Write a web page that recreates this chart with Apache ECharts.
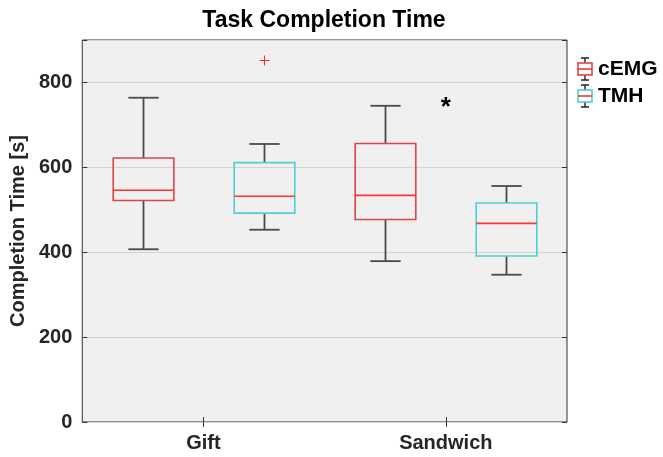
<!DOCTYPE html>
<html>
<head>
<meta charset="utf-8">
<script src="https://cdn.jsdelivr.net/npm/echarts@6/dist/echarts.min.js"></script>
<style>html,body{margin:0;padding:0;background:#fff;}#c{width:663px;height:457px;}</style>
</head>
<body>
<div id="c"></div>
<script>
// ---- data ----
const categories = ['Gift', 'Sandwich'];
const seriesNames = ['cEMG', 'TMH'];
// [lower whisker, Q1, median, Q3, upper whisker]
const cEMG = [[407, 522, 546, 622, 764], [379, 477, 534, 656, 745]];
const TMH = [[453, 492, 532, 611, 655], [347, 391, 468, 516, 556]];
// outliers: [category index, series index, value]
const outliers = [[0, 1, 854]];
// significance marks: [category index, value, text]
const marks = [[1, 751, '*']];
const yTicks = [0, 200, 400, 600, 800];
const yMin = 0, yMax = 900, yStep = 200;

// ---- styles ----
const edgeColors = ['#dc4646', '#4fd0d0'];
const medianColor = '#ff3333';
const whiskerColor = '#4a4a4a';
const font = '"Liberation Sans", Arial, Helvetica, sans-serif';

function iconFor(edge) {
  const svg = "<svg xmlns='http://www.w3.org/2000/svg' width='16' height='24'><g fill='none'>" +
    "<path d='M8 1V6M8 18V23M4 1H12M4 23H12' stroke='#222' stroke-width='1.4'/>" +
    "<rect x='1' y='6' width='14' height='12' stroke='" + edge + "' stroke-width='1.6'/>" +
    "<path d='M1 12H15' stroke='#ff3333' stroke-width='1.6'/></g></svg>";
  return 'image://data:image/svg+xml;charset=utf-8,' + encodeURIComponent(svg);
}

function boxRenderer(sIdx) {
  const side = sIdx === 0 ? -1 : 1;
  return function (params, api) {
    const ci = api.value(0);
    const bw = api.size([1, 0])[0];
    const cx = Math.round(api.coord([ci, 0])[0] + side * bw / 4) + 0.5;
    const y = v => api.coord([ci, v])[1];
    const lo = y(api.value(1)), q1 = y(api.value(2)), med = y(api.value(3)),
          q3 = y(api.value(4)), hi = y(api.value(5));
    const half = bw / 8, cap = bw / 16;
    const wStyle = { stroke: whiskerColor, lineWidth: 1.8 };
    return {
      type: 'group',
      children: [
        { type: 'line', shape: { x1: cx, y1: hi, x2: cx, y2: q3 }, style: wStyle },
        { type: 'line', shape: { x1: cx, y1: q1, x2: cx, y2: lo }, style: wStyle },
        { type: 'line', shape: { x1: cx - cap, y1: hi, x2: cx + cap, y2: hi }, style: wStyle },
        { type: 'line', shape: { x1: cx - cap, y1: lo, x2: cx + cap, y2: lo }, style: wStyle },
        { type: 'rect', shape: { x: cx - half, y: q3, width: 2 * half, height: q1 - q3 },
          style: { fill: null, stroke: edgeColors[sIdx], lineWidth: 1.6 } },
        { type: 'line', shape: { x1: cx - half, y1: med, x2: cx + half, y2: med },
          style: { stroke: medianColor, lineWidth: 1.6 } }
      ]
    };
  };
}

function toRows(arr) { return arr.map((v, i) => [i].concat(v)); }

const chart = echarts.init(document.getElementById('c'), null, { renderer: 'canvas' });
chart.setOption({
  animation: false,
  backgroundColor: '#ffffff',
  title: {
    text: 'Task Completion Time', left: 324, textAlign: 'center', top: 9, padding: 0,
    textStyle: { fontFamily: font, fontSize: 23, fontWeight: 'bold', color: '#000' }
  },
  legend: {
    orient: 'vertical', left: 577, top: 57, itemGap: 3, itemWidth: 16, itemHeight: 24,
    padding: 0,
    textStyle: { fontFamily: font, fontSize: 21, fontWeight: 'bold', color: '#000' },
    data: seriesNames.map((n, i) => ({ name: n, icon: iconFor(edgeColors[i]) }))
  },
  grid: {
    left: 82, right: 96, top: 40, bottom: 35, show: true,
    backgroundColor: '#f0f0f0', borderColor: '#333', borderWidth: 1
  },
  xAxis: [
    {
      type: 'category', data: categories, position: 'bottom',
      axisLine: { show: false },
      axisTick: { show: true, inside: true, alignWithLabel: true, length: 5, lineStyle: { color: '#333' } },
      axisLabel: { fontFamily: font, fontSize: 20, fontWeight: 'bold', color: '#262626', margin: 11 },
      splitLine: { show: false }
    },
    {
      type: 'category', data: categories, position: 'top',
      axisLine: { show: false },
      axisTick: { show: true, inside: true, alignWithLabel: true, length: 5, lineStyle: { color: '#333' } },
      axisLabel: { show: false }, splitLine: { show: false }
    }
  ],
  yAxis: [
    {
      type: 'value', min: yMin, max: yMax, interval: yStep, position: 'left',
      name: 'Completion Time [s]', nameLocation: 'middle', nameGap: 46,
      nameTextStyle: { fontFamily: font, fontSize: 20, fontWeight: 'bold', color: '#262626' },
      axisLine: { show: false },
      axisTick: { show: true, inside: true, length: 5, lineStyle: { color: '#333' } },
      axisLabel: {
        fontFamily: font, fontSize: 20, fontWeight: 'bold', color: '#262626', margin: 10,
        formatter: v => (yTicks.indexOf(v) >= 0 ? String(v) : '')
      },
      splitLine: { show: true, lineStyle: { color: '#d3d3d3', width: 1 } }
    },
    {
      type: 'value', min: yMin, max: yMax, interval: yStep, position: 'right',
      axisLine: { show: false },
      axisTick: { show: true, inside: true, length: 5, lineStyle: { color: '#333' } },
      axisLabel: { show: false }, splitLine: { show: false }
    }
  ],
  series: [
    {
      name: seriesNames[0], type: 'custom', xAxisIndex: 0, yAxisIndex: 0,
      renderItem: boxRenderer(0), encode: { x: 0, y: [1, 2, 3, 4, 5] },
      data: toRows(cEMG), z: 5
    },
    {
      name: seriesNames[1], type: 'custom', xAxisIndex: 0, yAxisIndex: 0,
      renderItem: boxRenderer(1), encode: { x: 0, y: [1, 2, 3, 4, 5] },
      data: toRows(TMH), z: 5
    },
    {
      name: 'outliers', type: 'custom', xAxisIndex: 0, yAxisIndex: 0,
      encode: { x: 0, y: 2 }, data: outliers, z: 6,
      renderItem: function (params, api) {
        const ci = api.value(0), si = api.value(1);
        const bw = api.size([1, 0])[0];
        const p = api.coord([ci, api.value(2)]);
        const cx = Math.round(p[0] + (si === 0 ? -1 : 1) * bw / 4) + 0.5;
        const cy = Math.round(p[1]) + 0.5;
        const r = 5;
        const st = { stroke: '#ff2222', lineWidth: 1 };
        return { type: 'group', children: [
          { type: 'line', shape: { x1: cx - r, y1: cy, x2: cx + r, y2: cy }, style: st },
          { type: 'line', shape: { x1: cx, y1: cy - r, x2: cx, y2: cy + r }, style: st }
        ] };
      }
    },
    {
      name: 'marks', type: 'custom', xAxisIndex: 0, yAxisIndex: 0,
      encode: { x: 0, y: 1 }, data: marks, z: 6,
      renderItem: function (params, api) {
        const p = api.coord([api.value(0), api.value(1)]);
        return {
          type: 'text', x: p[0], y: p[1] + 5,
          style: { text: marks[params.dataIndex][2], fontFamily: font, fontSize: 26, fontWeight: 'bold',
                   fill: '#000', align: 'center', verticalAlign: 'middle' }
        };
      }
    }
  ]
});
</script>
</body>
</html>
